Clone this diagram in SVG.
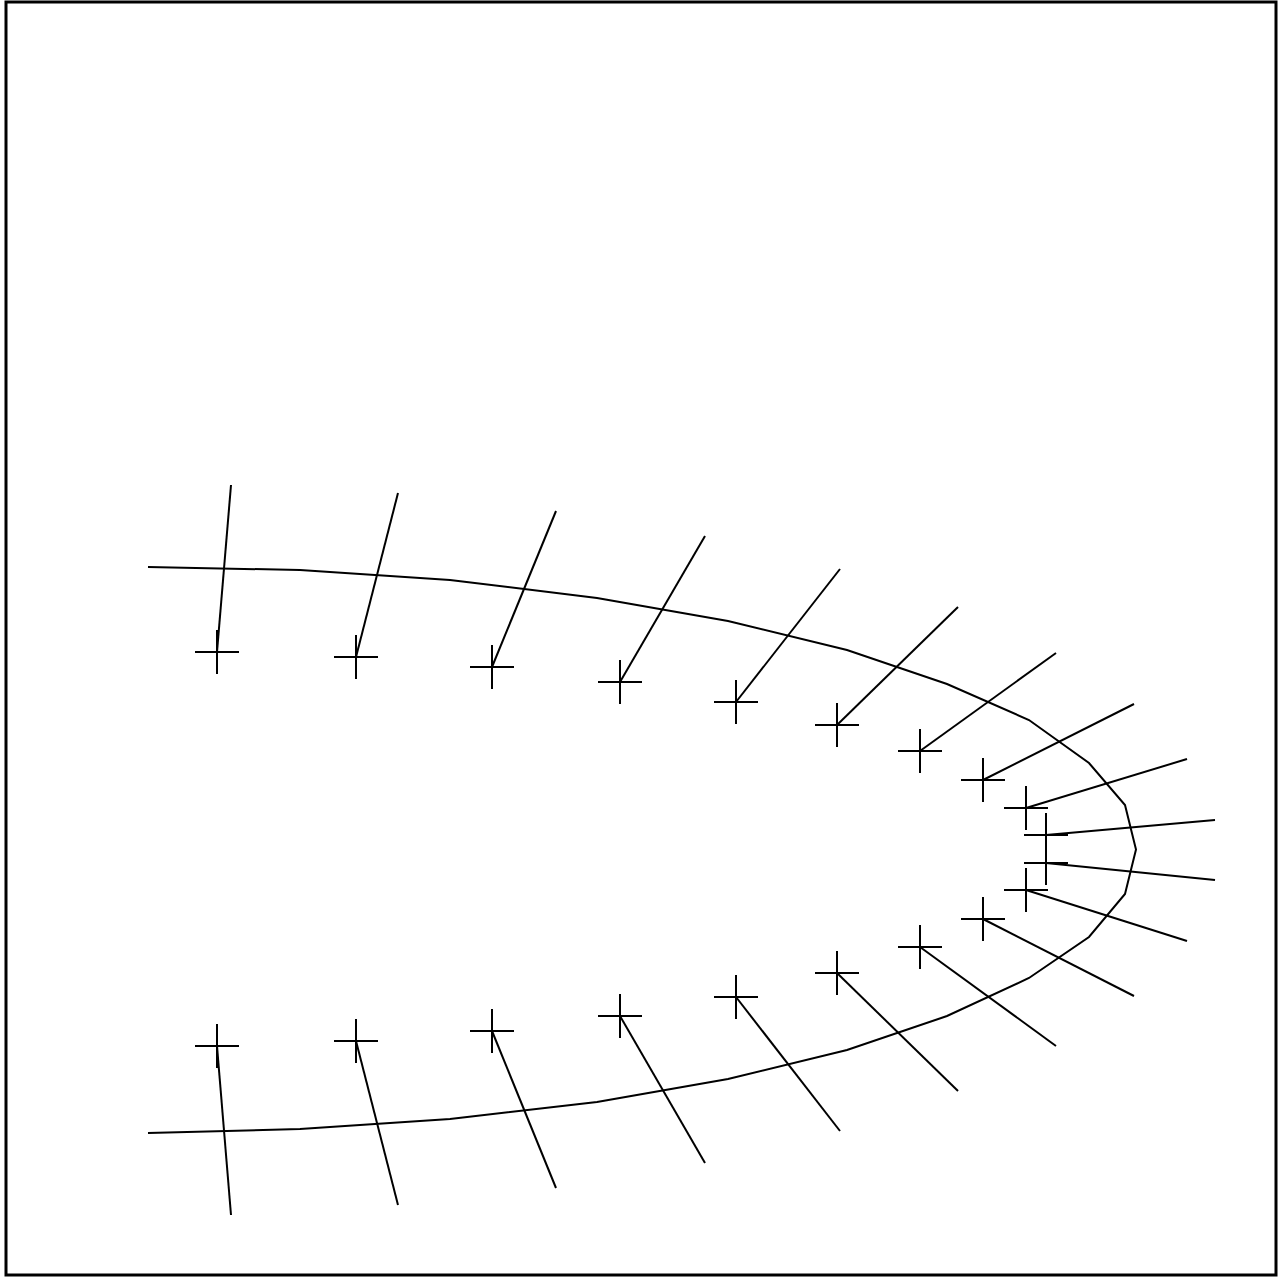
<svg xmlns="http://www.w3.org/2000/svg" width="1280" height="1279" viewBox="0 0 1280 1279">
<style>
.l{stroke:#000;stroke-width:2;fill:none}
</style>
<defs>
<path id="c" d="M-22,0H22M0,-22V22" class="l"/>
</defs>
<rect x="0" y="0" width="1280" height="1279" fill="#fff"/>
<rect x="6" y="2" width="1270" height="1273" fill="none" stroke="#000" stroke-width="3"/>
<g id="curve">
<polyline class="l" points="148,567 300,570 450,580 597,598 728,621 847,650 947,684 1029,720 1089,763 1125,805 1136,849.5 1125,894 1089,937 1029,978 947,1016 847,1050 728,1079 597,1102 450,1119 300,1129 148,1133"/>
</g>
<g id="connectors" class="l">
<line x1="217" y1="652" x2="231" y2="485"/>
<line x1="356" y1="657" x2="398" y2="493"/>
<line x1="492" y1="667" x2="556" y2="511"/>
<line x1="620" y1="682" x2="705" y2="536"/>
<line x1="736" y1="702" x2="840" y2="569"/>
<line x1="837" y1="725" x2="958" y2="607"/>
<line x1="920" y1="751" x2="1056" y2="653"/>
<line x1="983" y1="780" x2="1134" y2="704"/>
<line x1="1026" y1="808" x2="1187" y2="759"/>
<line x1="1046" y1="835" x2="1215" y2="820"/>
<line x1="1046" y1="863" x2="1215" y2="880"/>
<line x1="1026" y1="890" x2="1187" y2="941"/>
<line x1="983" y1="919" x2="1134" y2="996"/>
<line x1="920" y1="947" x2="1056" y2="1046"/>
<line x1="837" y1="973" x2="958" y2="1091"/>
<line x1="736" y1="997" x2="840" y2="1131"/>
<line x1="620" y1="1016" x2="705" y2="1163"/>
<line x1="492" y1="1031" x2="556" y2="1188"/>
<line x1="356" y1="1041" x2="398" y2="1205"/>
<line x1="217" y1="1046" x2="231" y2="1215"/>
</g>
<g id="crosses">
<use href="#c" x="217" y="652"/>
<use href="#c" x="356" y="657"/>
<use href="#c" x="492" y="667"/>
<use href="#c" x="620" y="682"/>
<use href="#c" x="736" y="702"/>
<use href="#c" x="837" y="725"/>
<use href="#c" x="920" y="751"/>
<use href="#c" x="983" y="780"/>
<use href="#c" x="1026" y="808"/>
<use href="#c" x="1046" y="835"/>
<use href="#c" x="1046" y="863"/>
<use href="#c" x="1026" y="890"/>
<use href="#c" x="983" y="919"/>
<use href="#c" x="920" y="947"/>
<use href="#c" x="837" y="973"/>
<use href="#c" x="736" y="997"/>
<use href="#c" x="620" y="1016"/>
<use href="#c" x="492" y="1031"/>
<use href="#c" x="356" y="1041"/>
<use href="#c" x="217" y="1046"/>
</g>
</svg>
